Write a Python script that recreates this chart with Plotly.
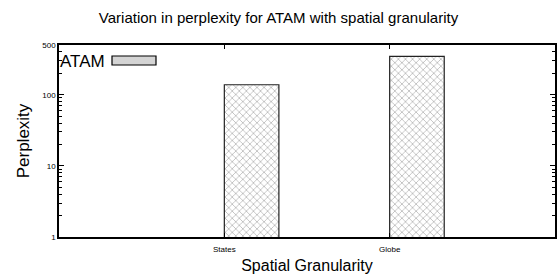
import plotly.graph_objects as go

categories = ["States", "Globe"]
perplexity = [138, 346]
series_name = "ATAM"
y_tick_vals = [1, 10, 100, 500]
y_tick_text = ["1", "10", "100", "500"]

FONT = "Liberation Sans, Arial, sans-serif"

fig = go.Figure()
fig.add_trace(go.Bar(
    x=categories, y=perplexity, name=series_name,
    width=0.33, offset=0.0,
    marker=dict(color="white",
                line=dict(color="#222", width=1.2),
                pattern=dict(shape="x", fgcolor="#777", bgcolor="white",
                             size=5, solidity=0.3)),
    showlegend=False,
))

W, H = 557, 279
L, R, T, B = 59, 2, 45, 42
pw, ph = W - L - R, H - T - B

def px_x(p):
    return (p - L) / pw

def px_y(p):
    return (H - B - p) / ph

fig.add_annotation(text=series_name, xref="paper", yref="paper",
                   x=px_x(58), y=px_y(61), xanchor="left", yanchor="middle",
                   showarrow=False, font=dict(family=FONT, size=17, color="black"))
fig.add_shape(type="rect", xref="paper", yref="paper",
              x0=px_x(112), x1=px_x(156), y0=px_y(65), y1=px_y(56),
              line=dict(color="black", width=1.2), fillcolor="#d4d4d4")

minor_vals = [v * m for v in (1, 10, 100) for m in range(2, 10) if v * m < 500]

fig.update_layout(
    width=W, height=H,
    margin=dict(l=L, r=R, t=T, b=B, autoexpand=False),
    paper_bgcolor="white", plot_bgcolor="white",
    title=dict(text="Variation in perplexity for ATAM with spatial granularity",
               x=px_x(307), xanchor="center", y=1 - 18 / H, yanchor="middle",
               font=dict(family=FONT, size=15, color="black")),
    xaxis=dict(type="category", range=[-1, 2], showgrid=False, automargin=False,
               showline=True, linecolor="black", linewidth=1.5, mirror="ticks",
               ticks="inside", ticklen=4, tickcolor="black",
               ticklabelstandoff=4,
               tickfont=dict(family=FONT, size=8, color="black"),
               title=dict(text="Spatial Granularity", standoff=6,
                          font=dict(family=FONT, size=16, color="black"))),
    yaxis=dict(type="log", range=[0, 2.699], showgrid=False, automargin=False,
               tickvals=y_tick_vals, ticktext=y_tick_text,
               showline=True, linecolor="black", linewidth=1.5, mirror="ticks",
               ticks="inside", ticklen=5, tickcolor="black",
               tickfont=dict(family=FONT, size=8, color="black"),
               minor=dict(tickvals=minor_vals, ticks="inside", ticklen=3,
                          tickcolor="black", showgrid=False),
               title=dict(text="Perplexity", standoff=8,
                          font=dict(family=FONT, size=17, color="black"))),
)

fig.write_html("out.html", config={"displayModeBar": False},
               post_script="document.body.style.margin='0';")
